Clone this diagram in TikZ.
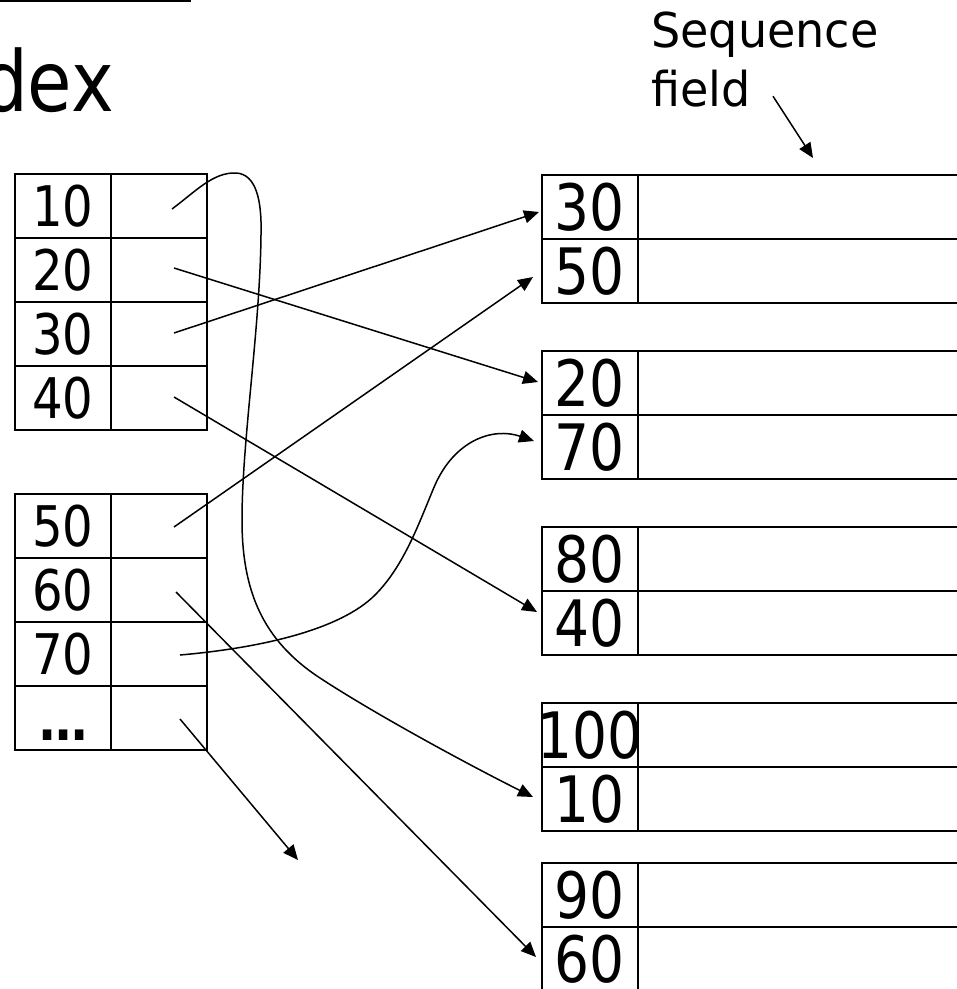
\documentclass[tikz,border=0pt]{standalone}
\usepackage{fontspec}
\setmainfont{DejaVu Sans}
\newfontfamily\tah[FakeStretch=0.86]{DejaVu Sans}
\newfontfamily\tahw[FakeStretch=0.96]{DejaVu Sans}
\usetikzlibrary{arrows.meta,calc}
\begin{document}
\begin{tikzpicture}[x=1pt,y=-1pt,
  cell/.style={draw, line width=2pt, minimum width=96pt, minimum height=64pt, inner sep=0pt, outer sep=0pt},
  lnum/.style={font=\tah\fontsize{56}{60}\selectfont, inner sep=0pt},
  rnum/.style={font=\tah\fontsize{64}{70}\selectfont, inner sep=0pt},
  ptr/.style={line width=1.5pt, -{Triangle[length=15pt,width=13pt]}},
  rule/.style={line width=2pt}]
\useasboundingbox (0,0) rectangle (957,989);
\clip (0,0) rectangle (957,989);

% title remains
\draw[line width=2pt] (0,1) -- (191,1);
\node[anchor=base east, inner sep=0pt, font=\tah\fontsize{84}{90}\selectfont] (title) at (114,111) {dex};

% left index table, part 1
\node[cell, label={[lnum]center:10}] (k10) at (63,206) {};
\node[cell] (p10) at (159,206) {};
\node[cell, label={[lnum]center:20}] (k20) at (63,270) {};
\node[cell] (p20) at (159,270) {};
\node[cell, label={[lnum]center:30}] (k30) at (63,334) {};
\node[cell] (p30) at (159,334) {};
\node[cell, label={[lnum]center:40}] (k40) at (63,398) {};
\node[cell] (p40) at (159,398) {};

% left index table, part 2
\node[cell, label={[lnum]center:50}] (k50) at (63,526) {};
\node[cell] (p50) at (159,526) {};
\node[cell, label={[lnum]center:60}] (k60) at (63,590) {};
\node[cell] (p60) at (159,590) {};
\node[cell, label={[lnum]center:70}] (k70) at (63,654) {};
\node[cell] (p70) at (159,654) {};
\node[cell] (kdots) at (63,718) {};
\node[cell] (pdots) at (159,718) {};
\node[lnum, anchor=base, font=\tah\bfseries\fontsize{56}{60}\selectfont] (dots) at (64,740) {…};

% data blocks
\coordinate (R) at (970,0);
\node[cell, label={[rnum]center:30}] (r30) at (590,207) {};
\node[cell, label={[rnum]center:50}] (r50) at (590,271) {};
\node[cell, label={[rnum]center:20}] (r20) at (590,383) {};
\node[cell, label={[rnum]center:70}] (r70) at (590,447) {};
\node[cell, label={[rnum]center:80}] (r80) at (590,559) {};
\node[cell, label={[rnum]center:40}] (r40) at (590,623) {};
\node[cell, label={[rnum]center:100}] (r100) at (590,735) {};
\node[cell, label={[rnum]center:10}] (r10) at (590,799) {};
\node[cell, label={[rnum]center:90}] (r90) at (590,895) {};
\node[cell, label={[rnum]center:60}] (r60) at (590,959) {};

\foreach \a/\b in {r30/r50, r20/r70, r80/r40, r100/r10, r90/r60}{
  \draw[rule] (\a.north east) -- (\a.north east -| R);
  \draw[rule] (\a.south east) -- (\a.south east -| R);
  \draw[rule] (\b.south east) -- (\b.south east -| R);
}

% label
\node[anchor=north west, inner sep=0pt, align=left, font=\tahw\fontsize{48}{59}\selectfont] (seq) at (651,11.5) {Sequence\\field};
\coordinate (seqend) at (813,158);
\draw[ptr] ([xshift=122pt,yshift=11pt]seq.south west) -- (seqend);

% pointers
\draw[ptr] ([xshift=15pt,yshift=2pt]p20.center) -- ([xshift=-4pt,yshift=1pt]r20.west);
\draw[ptr] ([xshift=15pt,yshift=1pt]p30.center) -- ([xshift=-3pt,yshift=-5pt]r30.west);
\draw[ptr] ([xshift=15pt,yshift=1pt]p40.center) -- ([xshift=-5pt,yshift=11pt]r40.west);
\draw[ptr] ([xshift=15pt,yshift=-1pt]p50.center) -- ([xshift=-9pt,yshift=-6pt]r50.west);
\draw[ptr] ([xshift=17pt,yshift=-2pt]p60.center) -- ([xshift=-6pt,yshift=2pt]r60.west);
\coordinate (dend) at (298,860);
\draw[ptr] ([xshift=21pt,yshift=-1pt]pdots.center) -- (dend);

\draw[ptr] ([xshift=21pt,yshift=-1pt]p70.center)
  .. controls (260,648) and (340,630) .. (375,595)
  .. controls (405,565) and (420,520) .. (435,485)
  .. controls (455,440) and (493,427) .. ([xshift=-8pt,yshift=6pt]r70.west);

\draw[ptr] ([xshift=13pt,yshift=-3pt]p10.center)
  .. controls (195,192) and (213,172) .. (236,173)
  .. controls (256,174) and (262,200) .. (261,235)
  .. controls (260,330) and (242,440) .. (242,520)
  .. controls (242,590) and (262,640) .. (320,678)
  .. controls (378,716) and (473,767) .. ([xshift=-9pt,yshift=2pt]r10.west);
\end{tikzpicture}
\end{document}
